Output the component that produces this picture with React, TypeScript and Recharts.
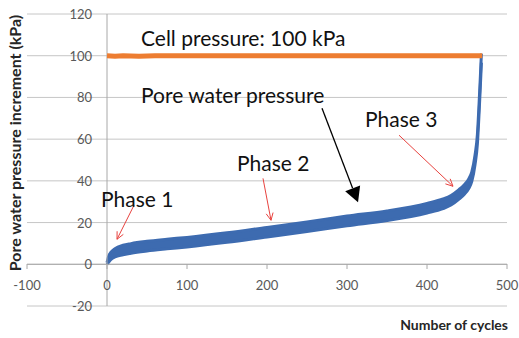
import { ComposedChart, Line, Area, XAxis, YAxis, CartesianGrid, ReferenceLine, ReferenceDot } from 'recharts'

const X_TICKS = [-100, 0, 100, 200, 300, 400, 500]
const Y_TICKS = [-20, 0, 20, 40, 60, 80, 100, 120]

// pore water pressure band (noisy trace drawn as low/high envelope)
const cycles = [0, 2, 5, 10, 20, 30, 50, 75, 100, 150, 200, 250, 300, 350, 400, 420, 430, 440, 447, 452, 456, 460, 463, 465, 466.5, 468]
const poreLow = [0, 1, 2.3, 3.5, 4.5, 5.3, 6.4, 7.4, 8.3, 10.5, 13.1, 15.7, 18.5, 21, 24.6, 26.7, 28.4, 31.2, 33.7, 36.2, 39.7, 47.7, 57.7, 71.7, 83.7, 96.7]
const poreHigh = [0.8, 3.8, 5.8, 7.5, 9.1, 9.9, 11, 12, 12.9, 15.1, 17.7, 20.3, 23.1, 25.6, 29.2, 31.3, 33, 35.8, 38.3, 40.8, 44.3, 52.3, 62.3, 76.3, 88.3, 101]

// cell pressure trace
const cellCycles = [0, 10, 20, 40, 60, 100, 200, 300, 400, 469]
const cellPressure = [100, 99.8, 100, 99.7, 100, 100, 100, 100, 100, 100]

const noteTexts = ['Cell pressure: 100 kPa', 'Pore water pressure', 'Phase 3', 'Phase 2', 'Phase 1']
const noteX = [42.5, 42.5, 322.5, 162.5, -7.5]
const noteY = [108.8, 81.5, 70, 49, 31.6]

const arrowFrom = [[33.75, 28.3], [195, 41.2], [365, 61.9], [268.75, 74.8]]
const arrowTo = [[12.5, 12], [205, 21.1], [432.5, 37.4], [313.75, 29.7]]
const arrowKind = ['red', 'red', 'red', 'black']

const BLUE = '#3d6bb0'
const ORANGE = '#ed7d31'
const GRID = '#c6c6c6'
const AXIS = '#a8a8a8'
const FONT = 'Lato, "Open Sans", sans-serif'

const poreData = cycles.map((x, i) => ({ x, band: [poreLow[i], poreHigh[i]] }))
const cellData = cellCycles.map((x, i) => ({ x, cell: cellPressure[i] }))

function XTick({ x, y, payload }: any) {
  return (
    <g>
      <line x1={x} x2={x} y1={y - 42} y2={y - 37} stroke={AXIS} />
      <text x={x} y={y - 21} textAnchor="middle" dominantBaseline="central" fontSize={13} fill="#595959" fontFamily={FONT}>
        {payload.value}
      </text>
    </g>
  )
}

function YTick({ x, y, payload }: any) {
  return (
    <text x={x + 65} y={y} textAnchor="end" dominantBaseline="central" fontSize={13} fill="#595959" fontFamily={FONT}>
      {payload.value}
    </text>
  )
}

function arrowShape(kind: string) {
  return (props: any) => {
    const { x1, y1, x2, y2 } = props
    const a = Math.atan2(y2 - y1, x2 - x1)
    if (kind === 'black') {
      const len = 15
      const half = 8
      const bx = x2 - len * Math.cos(a)
      const by = y2 - len * Math.sin(a)
      const px = -Math.sin(a) * half
      const py = Math.cos(a) * half
      return (
        <g>
          <line x1={x1} y1={y1} x2={bx} y2={by} stroke="#000" strokeWidth={1.3} />
          <polygon points={`${x2},${y2} ${bx + px},${by + py} ${bx - px},${by - py}`} fill="#000" />
        </g>
      )
    }
    const len = 8
    const spread = 0.45
    return (
      <g stroke="#e8433f" strokeWidth={1} fill="none">
        <line x1={x1} y1={y1} x2={x2} y2={y2} />
        <polyline
          points={`${x2 - len * Math.cos(a - spread)},${y2 - len * Math.sin(a - spread)} ${x2},${y2} ${x2 - len * Math.cos(a + spread)},${y2 - len * Math.sin(a + spread)}`}
        />
      </g>
    )
  }
}

function noteShape(text: string) {
  return (props: any) => (
    <text x={props.cx} y={props.cy} dominantBaseline="central" fontSize={21} fill="#111" fontFamily={FONT}>
      {text}
    </text>
  )
}

export default function App() {
  return (
    <div>
      <style>{'body{margin:0}'}</style>
      <ComposedChart width={519} height={338} margin={{ top: 14, right: 12, bottom: 0, left: 0 }}>
        <CartesianGrid vertical={false} stroke={GRID} />
        <XAxis
          type="number"
          dataKey="x"
          domain={[-100, 500]}
          ticks={X_TICKS}
          height={32}
          axisLine={false}
          tickLine={false}
          tickSize={0}
          tickMargin={0}
          tick={<XTick />}
          label={{
            content: (p: any) => (
              <text
                x={p.viewBox.x + p.viewBox.width + 1}
                y={p.viewBox.y + 18}
                textAnchor="end"
                dominantBaseline="central"
                fontSize={14}
                fontWeight="bold"
                fill="#262626"
                fontFamily={FONT}
              >
                Number of cycles
              </text>
            ),
          }}
        />
        <YAxis
          type="number"
          domain={[-20, 120]}
          ticks={Y_TICKS}
          width={27}
          axisLine={false}
          tickLine={false}
          tickSize={0}
          tickMargin={0}
          tick={<YTick />}
          label={{
            content: (p: any) => {
              const cx = p.viewBox.x + 14
              const cy = p.viewBox.y + p.viewBox.height / 2 - 17
              return (
                <text
                  x={cx}
                  y={cy}
                  transform={`rotate(-90 ${cx} ${cy})`}
                  textAnchor="middle"
                  dominantBaseline="central"
                  fontSize={16}
                  fontWeight="bold"
                  fill="#262626"
                  fontFamily={FONT}
                >
                  Pore water pressure increment (kPa)
                </text>
              )
            },
          }}
        />
        <ReferenceLine y={0} stroke={AXIS} />
        <ReferenceLine x={0} stroke={AXIS} />
        <Area
          data={poreData}
          dataKey="band"
          type="monotone"
          stroke={BLUE}
          strokeWidth={3}
          fill={BLUE}
          fillOpacity={1}
          isAnimationActive={false}
          activeDot={false}
        />
        <Line
          data={cellData}
          dataKey="cell"
          type="linear"
          stroke={ORANGE}
          strokeWidth={5}
          dot={false}
          activeDot={false}
          isAnimationActive={false}
        />
        {arrowFrom.map((f, i) => (
          <ReferenceLine
            key={'a' + i}
            segment={[{ x: f[0], y: f[1] }, { x: arrowTo[i][0], y: arrowTo[i][1] }]}
            shape={arrowShape(arrowKind[i])}
          />
        ))}
        {noteTexts.map((t, i) => (
          <ReferenceDot key={'n' + i} x={noteX[i]} y={noteY[i]} r={0} shape={noteShape(t)} />
        ))}
      </ComposedChart>
    </div>
  )
}
